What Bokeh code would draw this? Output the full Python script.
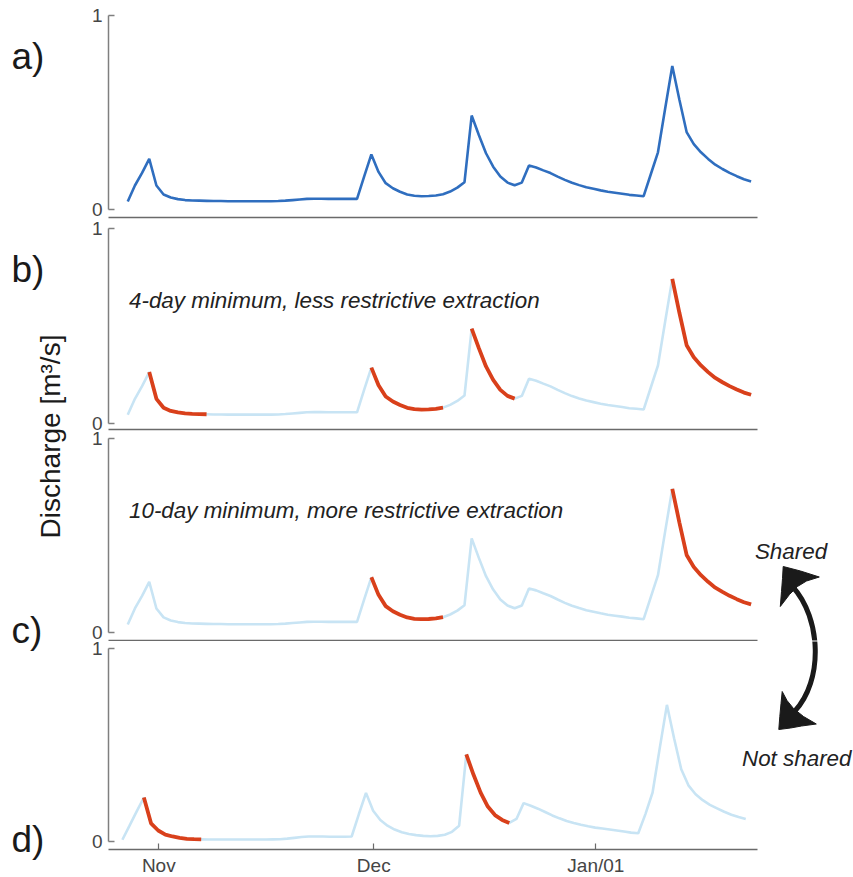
import math
import pandas as pd
from bokeh.plotting import figure
from bokeh.layouts import row, column
from bokeh.models import Range1d, FixedTicker, Label
from bokeh.embed import file_html
from bokeh.resources import INLINE
from bokeh.core.properties import value

# ---------------- data ----------------
dates_ref = pd.date_range("2018-10-27 16:00", periods=88, freq="D")
dates_d = pd.date_range("2018-10-26 22:00", periods=88, freq="D")

q_ref = [
    0.043, 0.125, 0.190, 0.262, 0.125,
    0.079, 0.063, 0.055, 0.050, 0.048, 0.047, 0.046, 0.045, 0.045, 0.044,
    0.044, 0.044, 0.044, 0.044, 0.044, 0.044, 0.045, 0.047, 0.050, 0.053,
    0.056, 0.057, 0.057, 0.056, 0.056, 0.056, 0.056, 0.056, 0.172, 0.285,
    0.195, 0.137, 0.111, 0.093, 0.079, 0.072, 0.070, 0.071, 0.074, 0.080,
    0.094, 0.114, 0.142, 0.485, 0.385, 0.291, 0.222, 0.171, 0.140, 0.126,
    0.140, 0.228, 0.218, 0.203, 0.189, 0.171, 0.154, 0.139, 0.127, 0.116, 0.108,
    0.100, 0.093, 0.088, 0.083, 0.077, 0.074, 0.070, 0.183, 0.296, 0.520,
    0.740, 0.565, 0.400, 0.338, 0.296, 0.262, 0.232, 0.210, 0.190, 0.173, 0.157, 0.146,
]
q_d = [
    0.009, 0.082, 0.156, 0.228, 0.094,
    0.057, 0.036, 0.026, 0.019, 0.014, 0.012, 0.011, 0.010, 0.010, 0.010,
    0.010, 0.010, 0.010, 0.010, 0.010, 0.010, 0.011, 0.012, 0.015, 0.019,
    0.023, 0.026, 0.026, 0.026, 0.025, 0.025, 0.025, 0.026, 0.141, 0.252,
    0.159, 0.111, 0.082, 0.062, 0.048, 0.039, 0.033, 0.029, 0.027, 0.029,
    0.035, 0.050, 0.082, 0.451, 0.347, 0.253, 0.181, 0.137, 0.112, 0.096,
    0.117, 0.199, 0.185, 0.170, 0.153, 0.135, 0.120, 0.106, 0.096, 0.087, 0.079,
    0.072, 0.067, 0.062, 0.057, 0.052, 0.046, 0.043, 0.142, 0.254, 0.484,
    0.708, 0.535, 0.374, 0.291, 0.245, 0.214, 0.190, 0.172, 0.154, 0.139, 0.127, 0.117,
]
# index ranges (inclusive) of the extraction windows, highlighted in red
red_b = [(3, 11), (34, 44), (48, 54), (76, 87)]
red_c = [(34, 44), (76, 87)]
red_d = [(3, 11), (48, 54)]

tick_dates = ["2018-11-01", "2018-12-01", "2019-01-01"]
tick_labels = ["Nov", "Dec", "Jan/01"]
panel_labels = ["a)", "b)", "c)", "d)"]
note_b = "4-day minimum, less restrictive extraction"
note_c = "10-day minimum, more restrictive extraction"
y_label = "Discharge [m\u00b3/s]"

# ---------------- styles / layout ----------------
BLUE = "#2f6ebf"
LIGHT = "#c8e4f4"
RED = "#d9401b"
INK = "#1a1a1a"
SPINE = "#7f7f7f"
BASE = "#6a6a6a"
TICKTXT = "#454545"
FONT = "Liberation Sans"

PX_NOV1 = 158.3
PX_DAY = 7.165
DAY_MS = 86400000.0
LEFT_W = 68
FRAME_L, FRAME_R, AXIS_END = 108, 853, 757
TOTAL_H = 876


def ms(ts):
    return (pd.Timestamp(ts) - pd.Timestamp("1970-01-01")).total_seconds() * 1000.0


NOV1_MS = ms("2018-11-01")


def xpx(px):
    return NOV1_MS + (px - PX_NOV1) / PX_DAY * DAY_MS


PANELS = [
    dict(top=0, bottom=217, one=15.0, zero=209.3, pad=2),
    dict(top=219, bottom=429, one=227.7, zero=422.7, pad=2),
    dict(top=431, bottom=640, one=437.7, zero=632.3, pad=1),
    dict(top=641, bottom=849, one=648.0, zero=841.0, pad=27),
]


def ypx(P, py):
    return (P["zero"] - py) / (P["zero"] - P["one"])


xr = Range1d(start=xpx(FRAME_L), end=xpx(FRAME_R))


def make_panel(P, last):
    yr = Range1d(start=ypx(P, P["bottom"]), end=ypx(P, P["top"]))
    p = figure(x_range=xr, y_range=yr, x_axis_type="datetime",
               frame_width=FRAME_R - FRAME_L, frame_height=P["bottom"] - P["top"],
               min_border_left=FRAME_L - LEFT_W, min_border_right=0,
               min_border_top=0, min_border_bottom=P["pad"],
               toolbar_location=None, output_backend="svg")
    p.grid.visible = False
    p.outline_line_color = None
    p.background_fill_color = "white"
    p.border_fill_color = "white"

    ya = p.yaxis[0]
    ya.ticker = FixedTicker(ticks=[0, 1])
    ya.bounds = (0, 1)
    ya.axis_line_color = SPINE
    ya.axis_line_width = 1.5
    ya.major_tick_line_color = SPINE
    ya.major_tick_line_width = 1.5
    ya.major_tick_in = 6
    ya.major_tick_out = 0
    ya.minor_tick_line_color = None
    ya.major_label_standoff = 6
    ya.major_label_text_font = FONT
    ya.major_label_text_font_size = "19px"
    ya.major_label_text_color = TICKTXT

    xa = p.xaxis[0]
    xa.bounds = (xpx(FRAME_L), xpx(AXIS_END))
    xa.axis_line_color = BASE
    xa.axis_line_width = 1.5
    xa.minor_tick_line_color = None
    if last:
        ticks = [int(ms(t)) for t in tick_dates]
        xa.ticker = FixedTicker(ticks=ticks)
        xa.major_label_overrides = {t: lab for t, lab in zip(ticks, tick_labels)}
        xa.major_tick_in = 6
        xa.major_tick_out = 0
        xa.major_tick_line_color = BASE
        xa.major_tick_line_width = 1.2
        xa.major_label_standoff = 5
        xa.major_label_text_font = FONT
        xa.major_label_text_font_size = "19px"
        xa.major_label_text_color = TICKTXT
    else:
        xa.ticker = FixedTicker(ticks=[])
        xa.major_tick_in = 0
        xa.major_tick_out = 0
        xa.major_label_standoff = 0
        xa.major_label_text_font_size = "0px"
    return p


def add_red(p, dates, q, segs):
    for s, e in segs:
        p.line(dates[s:e + 1], q[s:e + 1], line_color=RED, line_width=3.8)


def note(P, px, py, text, align="left"):
    return Label(x=xpx(px), y=ypx(P, py), text=text,
                 text_font=FONT, text_font_style="italic", text_font_size="22.4px",
                 text_color="#222222", text_align=align, text_baseline="middle")


pa = make_panel(PANELS[0], False)
pa.line(dates_ref, q_ref, line_color=BLUE, line_width=2.6)

pb = make_panel(PANELS[1], False)
pb.line(dates_ref, q_ref, line_color=LIGHT, line_width=2.6)
add_red(pb, dates_ref, q_ref, red_b)
pb.add_layout(note(PANELS[1], 128.5, 300.0, note_b))

pc = make_panel(PANELS[2], False)
pc.line(dates_ref, q_ref, line_color=LIGHT, line_width=2.6)
add_red(pc, dates_ref, q_ref, red_c)
pc.add_layout(note(PANELS[2], 128.5, 509.5, note_c))
pc.add_layout(note(PANELS[2], 790.5, 551.0, "Shared", "center"))

pd_ = make_panel(PANELS[3], True)
pd_.line(dates_d, q_d, line_color=LIGHT, line_width=2.6)
add_red(pd_, dates_d, q_d, red_d)
pd_.add_layout(note(PANELS[3], 741.5, 758.0, "Not shared"))

# curved double arrow between panels c and d (page pixel geometry)
shaft = [(792, 586), (821, 618), (823, 680), (794, 711)]
head_top = [(782.7, 566.0), (800.0, 570.5), (818.8, 576.5), (806.0, 580.5), (797.0, 586.0),
            (789.0, 594.0), (779.8, 606.0), (781.0, 591.0), (782.0, 578.0)]
head_bot = [(778.3, 729.0), (779.3, 716.0), (780.5, 703.0), (781.7, 691.0), (786.5, 700.0),
            (793.0, 708.0), (803.0, 716.0), (815.8, 723.5), (801.0, 725.5), (790.0, 727.5)]
for p, P in ((pc, PANELS[2]), (pd_, PANELS[3])):
    (x0, y0), (x1, y1), (x2, y2), (x3, y3) = shaft
    p.bezier(x0=[xpx(x0)], y0=[ypx(P, y0)], cx0=[xpx(x1)], cy0=[ypx(P, y1)],
             cx1=[xpx(x2)], cy1=[ypx(P, y2)], x1=[xpx(x3)], y1=[ypx(P, y3)],
             line_color=INK, line_width=5)
    for head in (head_top, head_bot):
        p.patch([xpx(a) for a, b in head], [ypx(P, b) for a, b in head],
                fill_color=INK, line_color=INK, line_width=1)

# left strip with panel letters and the shared y-axis title (page pixel frame)
lf = figure(width=LEFT_W, height=TOTAL_H, x_range=Range1d(0, LEFT_W), y_range=Range1d(TOTAL_H, 0),
            x_axis_location=None, y_axis_location=None, min_border=0,
            toolbar_location=None, output_backend="svg")
lf.grid.visible = False
lf.outline_line_color = None
lf.text(x=[11, 11, 11, 11], y=[56, 269, 630, 839], text=panel_labels,
        text_font=value(FONT), text_font_size=value("37px"), text_color=INK,
        text_align="left", text_baseline="middle")
lf.text(x=[50], y=[436], text=[y_label], angle=math.pi / 2,
        text_font=value(FONT), text_font_size=value("28px"), text_color=INK,
        text_align="center", text_baseline="middle")

layout = row(lf, column(pa, pb, pc, pd_))
open("out.html", "w").write(file_html(layout, INLINE))
